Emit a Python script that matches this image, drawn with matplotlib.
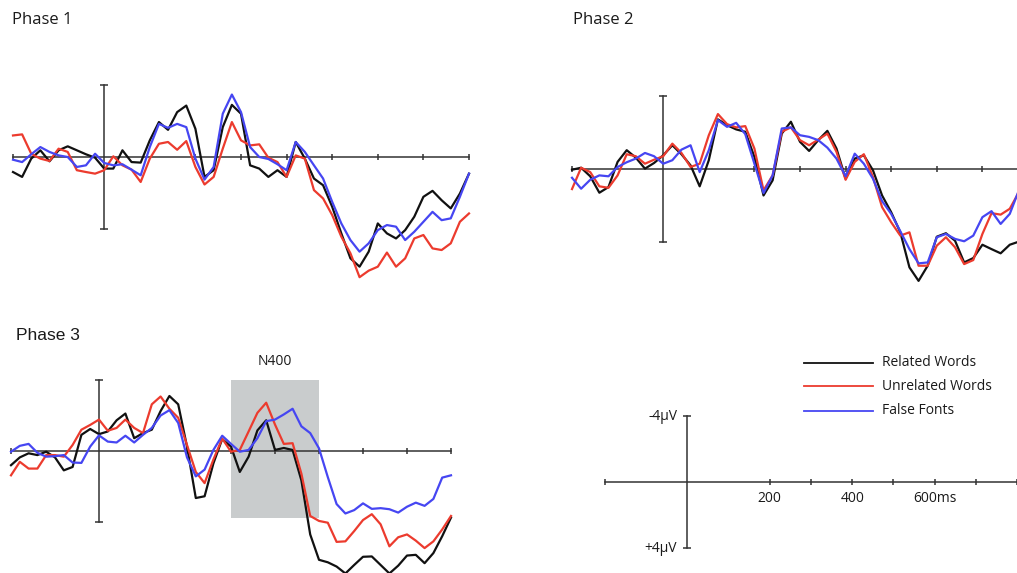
import numpy as np
import matplotlib
matplotlib.use('Agg')
import matplotlib.pyplot as plt

plt.rcParams['font.family'] = ['Open Sans', 'DejaVu Sans']

# time axis (ms), shared by all panels
times = list(range(-200, 801, 20))

# amplitudes in microvolts (negative plotted up)
p1_related = [0.83, 1.10, 0.09, -0.37, 0.24, -0.37, -0.59, -0.37, -0.15, 0.04, 0.64, 0.64, -0.37, 0.28, 0.31,
              -0.92, -1.93, -1.50, -2.48, -2.84, -1.56, 1.10, 0.73, -1.65, -2.88, -2.39, 0.46, 0.64, 1.10, 0.73,
              1.10, -0.83, 0.09, 1.19, 1.56, 2.75, 4.22, 5.60, 6.06, 5.23, 3.67, 4.22, 4.50, 4.04, 3.30, 2.20,
              1.87, 2.39, 2.84, 2.02, 0.92]
p1_unrelated = [-1.19, -1.25, -0.18, 0.09, 0.22, -0.46, -0.28, 0.73, 0.83, 0.92, 0.73, -0.04, 0.46, 0.70, 1.38,
                0.09, -0.73, -0.83, -0.40, -0.88, 0.55, 1.52, 1.10, -0.46, -1.93, -0.92, -0.64, -0.70, 0.04, 0.28,
                1.10, -0.09, 0.09, 1.83, 2.29, 3.21, 4.40, 5.32, 6.64, 6.28, 6.06, 5.28, 6.06, 5.60, 4.50, 4.31,
                5.05, 5.14, 4.77, 3.58, 3.12]
p1_fonts = [0.15, 0.28, -0.15, -0.55, -0.28, -0.09, 0.00, 0.55, 0.46, -0.18, 0.33, 0.46, 0.40, 0.70, 1.01,
            -0.55, -1.83, -1.61, -1.83, -1.65, 0.09, 1.25, 0.55, -2.39, -3.45, -2.48, -0.55, 0.00, 0.11, 0.40,
            0.73, -0.83, -0.28, 0.46, 1.19, 2.48, 3.67, 4.59, 5.23, 4.77, 4.04, 3.76, 3.85, 4.59, 4.13, 3.58,
            3.03, 3.49, 3.39, 2.20, 0.92]

p2_related = [0.04, -0.07, 0.40, 1.30, 0.99, -0.39, -1.03, -0.62, -0.02, -0.33, -0.75, -1.30, -0.81, -0.20, 0.95,
              -0.48, -2.72, -2.40, -2.17, -2.04, -0.66, 1.45, 0.62, -1.94, -2.59, -1.49, -0.99, -1.58, -2.09, -1.12,
              0.53, -0.57, -0.75, 0.07, 1.45, 2.37, 3.47, 5.39, 6.13, 5.30, 3.71, 3.52, 3.93, 5.12, 4.88, 4.15,
              4.39, 4.62, 4.15, 3.98, 3.90]
p2_unrelated = [1.10, -0.07, 0.17, 0.95, 1.03, 0.35, -0.81, -0.70, -0.29, -0.51, -0.70, -1.39, -0.88, -0.11, -0.29,
                -1.85, -3.01, -2.46, -2.28, -2.35, -1.12, 1.17, 0.35, -2.04, -2.28, -1.58, -1.30, -1.61, -1.94, -0.94,
                0.59, -0.39, -0.81, 0.44, 2.09, 2.92, 3.65, 3.47, 5.30, 5.30, 4.20, 3.74, 4.29, 5.21, 4.99, 3.56,
                2.42, 2.50, 2.18, 1.27, 0.80]
p2_fonts = [0.48, 1.08, 0.59, 0.35, 0.40, -0.11, -0.37, -0.57, -0.88, -0.70, -0.29, -0.48, -1.06, -1.30, 0.17,
            -1.03, -2.68, -2.31, -2.53, -1.91, -0.29, 1.32, 0.35, -2.22, -2.28, -1.85, -1.76, -1.58, -1.17, -0.57,
            0.40, -0.84, -0.29, 0.53, 1.76, 2.46, 3.41, 4.39, 5.17, 5.12, 3.74, 3.56, 3.83, 3.96, 3.65, 2.64,
            2.31, 3.01, 2.46, 1.17, 0.70]

p3_related = [0.80, 0.36, 0.13, 0.23, 0.04, 0.36, 1.09, 0.90, -0.91, -1.24, -0.95, -1.10, -1.73, -2.11, -0.72,
              -1.01, -1.20, -2.25, -3.10, -2.63, -0.25, 2.65, 2.55, 0.70, -0.67, -0.25, 1.18, 0.32, -1.16, -1.73,
              -0.06, -0.17, -0.06, 1.66, 4.70, 6.13, 6.27, 6.51, 6.90, 6.42, 5.96, 5.94, 6.42, 6.90, 6.46, 5.89,
              5.85, 6.32, 5.75, 4.80, 3.75]
p3_unrelated = [1.37, 0.61, 0.99, 0.99, 0.23, 0.23, 0.32, -0.34, -1.20, -1.47, -1.77, -1.14, -1.30, -1.77, -1.30,
                -1.01, -2.63, -3.07, -2.38, -1.87, -0.34, 1.18, 1.81, 0.48, -0.70, 0.04, -0.06, -1.10, -2.15, -2.72,
                -1.49, -0.40, -0.44, 1.28, 3.66, 3.94, 4.04, 5.12, 5.09, 4.51, 3.89, 3.56, 4.13, 5.37, 4.86, 4.70,
                5.05, 5.47, 5.09, 4.42, 3.66]
p3_fonts = [0.04, -0.29, -0.40, 0.10, 0.32, 0.29, 0.23, 0.65, 0.67, -0.25, -0.88, -0.53, -0.48, -0.86, -0.48,
            -0.91, -1.30, -2.00, -2.30, -1.58, 0.36, 1.43, 1.05, -0.06, -0.86, -0.40, 0.04, -0.06, -0.72, -1.68,
            -1.77, -2.06, -2.38, -1.39, -1.01, -0.15, 1.47, 2.99, 3.52, 3.33, 2.95, 3.26, 3.22, 3.28, 3.47, 3.14,
            2.91, 3.09, 2.70, 1.50, 1.37]

conditions = ['Related Words', 'Unrelated Words', 'False Fonts']
colors = ['#111111', '#ec3b2e', '#4646f2']
axis_ticks = [-200, 200, 300, 400, 500, 600, 700, 800]
tick_labels = {200: '200', 400: '400', 600: '600ms'}
n400_window = (300, 500)

W, H = 1017, 573
fig = plt.figure(figsize=(W / 100, H / 100), dpi=100)
txt = '#1a1a1a'


def make_panel(x_left, x_right, zero_y, px_per_uv, vmin=-6, vmax=9):
    # axes placed in pixel units: x from -200 to 800 ms, y inverted (negative up)
    top = zero_y + vmin * px_per_uv
    bottom = zero_y + vmax * px_per_uv
    ax = fig.add_axes([x_left / W, 1 - bottom / H, (x_right - x_left) / W, (bottom - top) / H])
    ax.set_xlim(-200, 800)
    ax.set_ylim(vmax, vmin)
    ax.axis('off')
    return ax


def draw_axes(ax, ycap=4):
    ac = '#333333'
    ax.plot([-200, 800], [0, 0], color=ac, lw=1.1, zorder=1, clip_on=False)
    ax.plot(axis_ticks, [0] * len(axis_ticks), ls='none', marker='|', ms=5, mew=1.1, color=ac, clip_on=False)
    ax.plot([0, 0], [-ycap, ycap], color=ac, lw=1.1, zorder=1, clip_on=False)
    ax.plot([0, 0], [-ycap, ycap], ls='none', marker='_', ms=6, mew=1.1, color=ac, clip_on=False)


panels = [
    (make_panel(13, 469, 157, 18.1), [p1_related, p1_unrelated, p1_fonts]),
    (make_panel(572, 1028, 169, 18.25), [p2_related, p2_unrelated, p2_fonts]),
    (make_panel(11, 451, 451, 17.75), [p3_related, p3_unrelated, p3_fonts]),
]

for ax, series in panels:
    draw_axes(ax)
    for vals, c in zip(series, colors):
        ax.plot(times, vals, color=c, lw=1.6, zorder=3, solid_joinstyle='round', clip_on=False)

# N400 window in phase 3
ax3 = panels[2][0]
ax3.fill_between(n400_window, [-4, -4], [3.8, 3.8], color='#c9cccd', lw=0, zorder=0)
ax3.text(sum(n400_window) / 2, -4.6, 'N400', ha='center', va='bottom', fontsize=10, color=txt)

fig.text(12 / W, 1 - 20 / H, 'Phase 1', ha='left', va='center', fontsize=12, color=txt)
fig.text(573 / W, 1 - 20 / H, 'Phase 2', ha='left', va='center', fontsize=12, color=txt)
fig.text(16 / W, 1 - 335 / H, 'Phase 3', ha='left', va='center', fontsize=12.5,
         family=['Liberation Sans', 'DejaVu Sans'], color=txt)

# scale key
sk = make_panel(605, 1017, 482, 16.5)
draw_axes(sk)
for t, lab in tick_labels.items():
    sk.text(t, 1.0, lab, ha='center', va='center', fontsize=10, color=txt)
sk.text(-25, -4, '-4\u00b5V', ha='right', va='center', fontsize=10, color=txt)
sk.text(-25, 4, '+4\u00b5V', ha='right', va='center', fontsize=10, color=txt)

# legend
leg_y = [363, 386, 411]
for name, c, y in zip(conditions, colors, leg_y):
    fig.lines.append(plt.Line2D([804 / W, 873 / W], [1 - y / H, 1 - y / H], color=c, lw=1.3,
                                transform=fig.transFigure))
    fig.text(882 / W, 1 - y / H, name, ha='left', va='center', fontsize=10, color=txt)

fig.savefig('out.png', dpi=100, facecolor='white')
